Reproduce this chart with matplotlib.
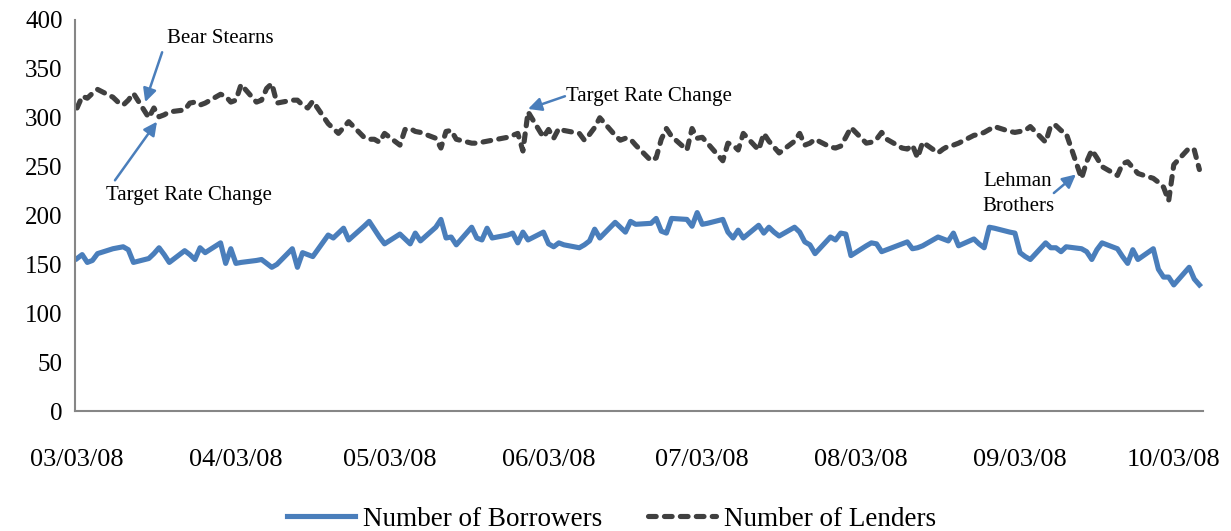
import matplotlib
matplotlib.use("Agg")
import matplotlib.pyplot as plt
import matplotlib.dates as mdates
import numpy as np
import pandas as pd

# business days 03/03/08 .. 10/08/08, one row per week
dates = pd.bdate_range("2008-03-03", "2008-10-08")

borrowers = np.array([
    156, 160, 152, 154, 161,
    166, 167, 168, 165, 152,
    156, 161, 167, 160, 152,
    164, 160, 155, 167, 162,
    172, 151, 166, 151, 152,
    154, 155, 151, 147, 150,
    166, 147, 162, 160, 158,
    180, 177, 182, 187, 175,
    189, 194, 186, 178, 171,
    181, 176, 171, 182, 174,
    188, 196, 177, 178, 170,
    188, 177, 175, 187, 177,
    180, 182, 172, 183, 175,
    183, 171, 168, 172, 170,
    167, 170, 174, 186, 177,
    193, 188, 183, 194, 191,
    192, 197, 184, 182, 197,
    196, 189, 203, 191, 192,
    196, 183, 177, 185, 177,
    190, 182, 188, 183, 179,
    188, 183, 173, 170, 161,
    178, 175, 182, 181, 159,
    169, 172, 171, 163, 165,
    171, 173, 166, 167, 169,
    178, 176, 174, 182, 169,
    176, 171, 167, 188, 187,
    183, 182, 162, 158, 155,
    172, 167, 167, 163, 168,
    166, 163, 155, 165, 172,
    166, 158, 151, 165, 155,
    166, 145, 137, 137, 129,
    147, 135, 129,
])

lenders = np.array([
    310, 322, 320, 325, 329,
    321, 316, 313, 318, 325,
    300, 310, 301, 303, 306,
    308, 315, 316, 313, 315,
    324, 322, 316, 318, 334,
    316, 318, 330, 335, 315,
    318, 318, 313, 310, 317,
    294, 289, 284, 290, 296,
    280, 278, 278, 275, 284,
    272, 288, 289, 286, 285,
    279, 269, 286, 287, 278,
    274, 274, 275, 276, 277,
    280, 282, 284, 266, 306,
    280, 288, 279, 289, 287,
    284, 277, 283, 290, 300,
    282, 277, 279, 278, 272,
    256, 259, 278, 289, 281,
    267, 289, 279, 280, 274,
    256, 274, 272, 267, 284,
    267, 284, 276, 270, 264,
    276, 284, 272, 274, 278,
    270, 269, 271, 280, 290,
    274, 275, 278, 285, 278,
    269, 268, 272, 259, 275,
    264, 268, 271, 272, 274,
    282, 283, 285, 288, 291,
    286, 285, 286, 287, 291,
    275, 292, 292, 287, 284,
    238, 255, 267, 259, 250,
    241, 253, 255, 249, 243,
    238, 234, 229, 215, 252,
    269, 267, 247,
])

tick_dates = ["2008-03-03", "2008-04-03", "2008-05-03", "2008-06-03",
              "2008-07-03", "2008-08-03", "2008-09-03", "2008-10-03"]
y_ticks = [0, 50, 100, 150, 200, 250, 300, 350, 400]

blue = "#4a7ebb"
dark = "#404040"
axis_gray = "#868686"

plt.rcParams["font.family"] = ["Liberation Serif", "DejaVu Serif"]

fig = plt.figure(figsize=(12.31, 5.31), dpi=100)
ax = fig.add_axes([75 / 1231, 1 - 411 / 531, 1128 / 1231, 391 / 531])

ax.plot(dates, borrowers, color=blue, lw=3.7, solid_joinstyle="round",
        label="Number of Borrowers")
ax.plot(dates, lenders, color=dark, lw=3.7, dashes=(1.5, 1.6),
        dash_capstyle="round", label="Number of Lenders")

start = mdates.date2num(pd.Timestamp("2008-03-03"))
ax.set_xlim(start - 0.4, start + 219.7)
ax.set_ylim(0, 400)
ax.set_yticks(y_ticks)
ax.set_xticks([mdates.date2num(pd.Timestamp(d)) for d in tick_dates])
ax.xaxis.set_major_formatter(mdates.DateFormatter("%m/%d/%y"))
ax.tick_params(axis="both", length=0)
ax.tick_params(axis="x", pad=27, labelsize=19)
ax.tick_params(axis="y", pad=9, labelsize=18)

for side in ["top", "right"]:
    ax.spines[side].set_visible(False)
for side in ["left", "bottom"]:
    ax.spines[side].set_color(axis_gray)
    ax.spines[side].set_linewidth(1.5)


def day(n):
    return start + n


arrow = dict(arrowstyle="-|>", color=blue, lw=1.8, mutation_scale=20,
             shrinkA=0, shrinkB=0)

ax.annotate("", xy=(day(13.3), 316), xytext=(day(16.6), 367), arrowprops=arrow)
ax.text(day(28), 381, "Bear Stearns", fontsize=15, ha="center", va="center")

ax.annotate("", xy=(day(15.6), 296), xytext=(day(7.4), 236), arrowprops=arrow)
ax.text(day(21.8), 220, "Target Rate Change", fontsize=15, ha="center", va="center")

ax.annotate("", xy=(day(88), 309), xytext=(day(95.2), 322), arrowprops=arrow)
ax.text(day(95.4), 322, "Target Rate Change", fontsize=15, ha="left", va="center")

ax.annotate("", xy=(day(194.9), 242), xytext=(day(190.6), 223), arrowprops=arrow)
ax.text(day(183.6), 222, "Lehman\nBrothers", fontsize=15, ha="center", va="center",
        linespacing=1.45)

fig.legend(loc="center", bbox_to_anchor=(0.497, 0.022), ncol=2, frameon=False,
           fontsize=19.5, handlelength=2.5, handletextpad=0.3, columnspacing=1.7)

fig.savefig("out.png", dpi=100)
